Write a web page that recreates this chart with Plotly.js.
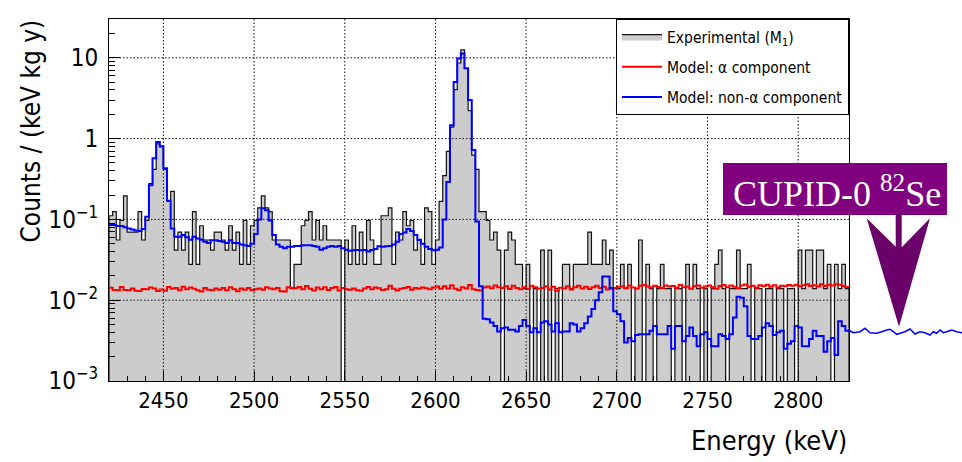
<!DOCTYPE html>
<html><head><meta charset="utf-8">
<script src="https://cdn.plot.ly/plotly-3.0.1.min.js"></script>
<style>html,body{margin:0;padding:0;background:#fff;}#chart{width:962px;height:462px;}</style>
</head><body><div id="chart"></div>
<script>
// ---- data (2 keV bins starting at 2420 keV) ----
const binStart = 2420;
const binWidth = 2;
const experimental = [
0.111,0.125,0.0556,0.0973,0.195,0.0695,0.0695,0.0695,0.125,0.0556,
0.0973,0.278,0.417,0.862,0.806,0.417,0.167,0.222,0.0417,0.0695,
0.0417,0.0695,0.0278,0.125,0.0278,0.0834,0.0556,0.0556,0.0417,0.0695,
0.0695,0.0556,0.0417,0.0834,0.0417,0.0695,0.0278,0.0973,0.0278,0.0834,
0.0973,0.139,0.195,0.139,0.125,0.0556,0.0556,0.0556,0.0556,0.0556,
0.0139,0.0278,0.0278,0.0834,0.0973,0.125,0.0556,0.0973,0.0556,0.0834,
0.0556,0.0556,0.0556,0.0556,0,0.0556,0.0278,0.0834,0.0278,0.0695,
0.0278,0.0973,0.0556,0.0278,0.0278,0.111,0.111,0.139,0.0278,0.0695,
0.0556,0.125,0.0834,0.0973,0.0417,0.0556,0.0278,0.139,0.125,0.0278,
0.0556,0.167,0.348,0.695,1.39,4.03,8.62,12.5,7.37,2.22,
0.626,0.417,0.125,0.125,0.0973,0.0556,0.0695,0.0417,0,0.0417,
0.0695,0.0556,0.0278,0.0278,0.0139,0.0278,0,0.0139,0,0.0417,
0,0.0417,0,0.0139,0,0.0278,0.0278,0.0139,0.0278,0.0278,
0.0278,0.0278,0.0695,0.0278,0.0278,0.0278,0.0556,0.0278,0.0417,0.0139,
0.0139,0.0278,0.0139,0.0278,0,0.0139,0.0556,0,0.0278,0.0139,
0,0.0139,0.0278,0.0139,0.0139,0,0.0139,0.0139,0,0.0278,
0.0139,0.0278,0.0139,0,0.0139,0,0.0139,0.0278,0.0417,0.0139,
0,0.0139,0.0139,0.0417,0.0139,0.0139,0.0278,0,0.0139,0.0139,
0,0.0139,0.0139,0,0.0139,0.0139,0,0.0139,0.0139,0,
0.0417,0.0139,0.0417,0.0417,0.0139,0.0417,0.0417,0.0139,0.0278,0,
0.0278,0.0139,0.0278,0.0139
];
const alphaModel = [
0.0143,0.0134,0.0133,0.0146,0.0134,0.0133,0.0140,0.0131,0.0130,0.0138,
0.0137,0.0144,0.0140,0.0130,0.0136,0.0131,0.0146,0.0139,0.0142,0.0133,
0.0147,0.0137,0.0144,0.0139,0.0133,0.0128,0.0142,0.0135,0.0133,0.0140,
0.0135,0.0142,0.0133,0.0145,0.0137,0.0129,0.0140,0.0135,0.0142,0.0133,
0.0137,0.0140,0.0135,0.0145,0.0140,0.0137,0.0142,0.0129,0.0128,0.0145,
0.0142,0.0141,0.0146,0.0137,0.0150,0.0139,0.0132,0.0144,0.0137,0.0145,
0.0134,0.0142,0.0146,0.0132,0.0142,0.0137,0.0135,0.0140,0.0133,0.0131,
0.0140,0.0146,0.0137,0.0144,0.0141,0.0134,0.0137,0.0151,0.0139,0.0132,
0.0139,0.0142,0.0146,0.0135,0.0142,0.0139,0.0144,0.0141,0.0137,0.0144,
0.0148,0.0139,0.0149,0.0140,0.0153,0.0139,0.0134,0.0145,0.0140,0.0154,
0.0137,0.0134,0.0132,0.0144,0.0148,0.0141,0.0152,0.0145,0.0142,0.0149,
0.0138,0.0151,0.0142,0.0137,0.0145,0.0138,0.0151,0.0145,0.0140,0.0142,
0.0149,0.0136,0.0147,0.0131,0.0143,0.0140,0.0149,0.0136,0.0145,0.0151,
0.0140,0.0147,0.0138,0.0145,0.0151,0.0142,0.0147,0.0136,0.0140,0.0142,
0.0147,0.0149,0.0142,0.0152,0.0144,0.0140,0.0151,0.0154,0.0148,0.0144,
0.0151,0.0146,0.0142,0.0152,0.0148,0.0150,0.0143,0.0154,0.0145,0.0148,
0.0139,0.0150,0.0152,0.0143,0.0148,0.0152,0.0145,0.0139,0.0150,0.0154,
0.0145,0.0152,0.0147,0.0141,0.0152,0.0156,0.0147,0.0151,0.0143,0.0153,
0.0149,0.0155,0.0147,0.0153,0.0144,0.0151,0.0149,0.0154,0.0151,0.0155,
0.0149,0.0153,0.0157,0.0150,0.0153,0.0148,0.0157,0.0150,0.0155,0.0152,
0.0157,0.0155,0.0150,0.0146
];
const nonAlphaModel = [
0.085,0.085,0.083,0.083,0.080,0.077,0.075,0.073,0.072,0.076,
0.108,0.265,0.57,0.91,0.80,0.43,0.17,0.077,0.061,0.061,
0.064,0.060,0.056,0.061,0.058,0.056,0.053,0.051,0.055,0.055,
0.054,0.053,0.051,0.055,0.051,0.051,0.049,0.048,0.047,0.050,
0.066,0.100,0.137,0.130,0.097,0.064,0.049,0.046,0.044,0.046,
0.046,0.047,0.047,0.048,0.048,0.048,0.047,0.046,0.042,0.044,
0.046,0.047,0.046,0.047,0.044,0.042,0.041,0.0414,0.0418,0.0414,
0.0418,0.040,0.0418,0.043,0.0465,0.046,0.0465,0.047,0.049,0.053,
0.066,0.069,0.076,0.072,0.064,0.056,0.050,0.046,0.043,0.0414,
0.042,0.045,0.10,0.29,1.46,5.0,9.8,11.3,7.4,3.0,
0.72,0.094,0.0149,0.0059,0.0058,0.0053,0.0048,0.0041,0.0045,0.0046,
0.0043,0.0043,0.0041,0.0048,0.0057,0.0048,0.0040,0.0045,0.0040,0.0053,
0.0055,0.0050,0.0041,0.0052,0.0040,0.0041,0.0041,0.0052,0.0050,0.0041,
0.0045,0.0052,0.0063,0.0078,0.0100,0.0125,0.0197,0.0197,0.0142,0.0073,
0.0067,0.0055,0.0030,0.0034,0.0031,0.0037,0.0038,0.0038,0.0038,0.0042,
0.0048,0.0038,0.0038,0.0038,0.0048,0.0025,0.0048,0.0048,0.0031,0.0036,
0.0046,0.0036,0.0027,0.0038,0.0040,0.0033,0.0027,0.0027,0.0038,0.0036,
0.0033,0.0038,0.0061,0.0110,0.0107,0.0084,0.0036,0.0033,0.0033,0.0036,
0.0046,0.0052,0.0048,0.0037,0.0040,0.0042,0.0025,0.0029,0.0031,0.0048,
0.0046,0.0027,0.0027,0.0033,0.0042,0.0036,0.0036,0.0023,0.0031,0.0034,
0.0021,0.0055,0.0048,0.0042
];
const xTickVals = [2450,2500,2550,2600,2650,2700,2750,2800];
const yTickVals = [0.001,0.01,0.1,1,10];
const yTickText = ['10<sup>\u22123</sup>','10<sup>\u22122</sup>','10<sup>\u22121</sup>','1','10'];
const seriesNames = ['Experimental (M<sub>1</sub>)','Model: \u03b1 component','Model: non-\u03b1 component'];

// ---- layout constants ----
const X_RANGE = [2420, 2828];
const Y_LOG_RANGE = [-3, 1.48];
const FLOOR = 1e-5;
const SANS = 'Liberation Sans Narrow, DejaVu Sans Condensed, Arial Narrow, sans-serif';
const PLOT_L = 109, PLOT_R = 849, PLOT_T = 19, PLOT_B = 381, W = 962, H = 462;
const px = p => (p - PLOT_L) / (PLOT_R - PLOT_L);
const py = p => (PLOT_B - p) / (PLOT_B - PLOT_T);

function steps(vals) {
  const x = [], y = [];
  vals.forEach((v, i) => { x.push(binStart + i * binWidth); y.push(v > 0 ? v : FLOOR); });
  x.push(binStart + vals.length * binWidth); y.push(y[y.length - 1]);
  return {x, y};
}
const expSt = steps(experimental);
const expX = [binStart].concat(expSt.x, [expSt.x[expSt.x.length - 1]]);
const expY = [FLOOR].concat(expSt.y, [FLOOR]);
const aSt = steps(alphaModel), nSt = steps(nonAlphaModel);

const traces = [
  {x: expX, y: expY, type: 'scatter', mode: 'lines', fill: 'toself', fillcolor: '#cccccc',
   line: {color: '#111', width: 1.2, shape: 'hv'}, name: seriesNames[0], legendgroup: 'a', hoverinfo: 'skip'},
  {x: aSt.x, y: aSt.y, type: 'scatter', mode: 'lines', line: {color: '#ff0000', width: 2, shape: 'hv'},
   name: seriesNames[1], legendgroup: 'b', hoverinfo: 'skip'},
  {x: nSt.x, y: nSt.y, type: 'scatter', mode: 'lines', line: {color: '#0000ff', width: 2, shape: 'hv'},
   name: seriesNames[2], legendgroup: 'c', hoverinfo: 'skip'}
];

// minor ticks on log axis
const yMinor = [];
for (let d = -3; d <= 1; d++) for (let k = 2; k <= 9; k++) yMinor.push(k * Math.pow(10, d));

// grid drawn above the histogram (as in ROOT)
const shapes = [];
const gridLine = {color: '#111', width: 1, dash: '1.5px,2px'};
xTickVals.forEach(v => shapes.push({type: 'line', xref: 'x', yref: 'paper', x0: v, x1: v, y0: 0, y1: 1, line: gridLine, layer: 'above'}));
yTickVals.slice(1).forEach(v => {
  const f = (Math.log10(v) - Y_LOG_RANGE[0]) / (Y_LOG_RANGE[1] - Y_LOG_RANGE[0]);
  shapes.push({type: 'line', xref: 'paper', yref: 'paper', x0: 0, x1: 1, y0: f, y1: f, line: gridLine, layer: 'above'});
});
// CUPID-0 logo
shapes.push({type: 'rect', xref: 'paper', yref: 'paper', x0: px(723), x1: px(947), y0: py(215), y1: py(163), fillcolor: '#800080', line: {width: 0}, layer: 'above'});
shapes.push({type: 'rect', xref: 'paper', yref: 'paper', x0: px(895.7), x1: px(901.7), y0: py(247), y1: py(214), fillcolor: '#6a006a', line: {width: 0}, layer: 'above'});
shapes.push({type: 'path', xref: 'paper', yref: 'paper', layer: 'above', fillcolor: '#6a006a', line: {width: 0},
  path: `M${px(866.7)},${py(218.3)} L${px(896)},${py(247)} L${px(902)},${py(247)} L${px(930)},${py(218.3)} L${px(899)},${py(326.7)} Z`});
const wave = [[848.3,330],[853.3,332.7],[860,331.7],[865,328.3],[870,332.7],[876.7,333.3],[881.7,331.7],[886.7,330],[890,329.3],[893.3,331.7],[896.7,334.3],[901.7,332.7],[905,331.7],[910,329],[915,334],[920,331.7],[925,332.7],[930,335],[933.3,331.7],[936.7,333.3],[940,330],[943.3,332.7],[946.7,331.7],[951.7,330],[956.7,331.7],[962,332.7]];
shapes.push({type: 'path', xref: 'paper', yref: 'paper', layer: 'above', line: {color: '#0000ff', width: 1.5},
  path: wave.map((p, i) => (i ? 'L' : 'M') + px(p[0]) + ',' + py(p[1])).join(' ')});

const layout = {
  width: W, height: H,
  margin: {l: PLOT_L, r: W - PLOT_R, t: PLOT_T, b: H - PLOT_B, pad: 0},
  paper_bgcolor: '#fff', plot_bgcolor: '#fff',
  font: {family: SANS, color: '#000'},
  showlegend: true,
  legend: {x: 1, xanchor: 'right', y: 1, yanchor: 'top', bgcolor: '#fff', bordercolor: '#000', borderwidth: 1,
           font: {family: SANS, size: 15.5, color: '#000'}, itemwidth: 40, tracegroupgap: 7, traceorder: 'grouped'},
  xaxis: {type: 'linear', range: X_RANGE, tickmode: 'array', tickvals: xTickVals, ticks: 'inside', ticklen: 10,
          tickcolor: '#000', showline: true, mirror: true, linecolor: '#000', linewidth: 1, showgrid: false, zeroline: false,
          tickfont: {family: SANS, size: 22, color: '#000'},
          minor: {tickmode: 'linear', tick0: 2420, dtick: 10, ticks: 'inside', ticklen: 5, tickcolor: '#000', showgrid: false}},
  yaxis: {type: 'log', range: Y_LOG_RANGE, tickmode: 'array', tickvals: yTickVals, ticktext: yTickText, ticks: 'inside', ticklen: 11,
          tickcolor: '#000', showline: true, mirror: true, linecolor: '#000', linewidth: 1, showgrid: false, zeroline: false,
          tickfont: {family: SANS, size: 24, color: '#000'}, ticklabelstandoff: 5,
          minor: {tickmode: 'array', tickvals: yMinor, ticks: 'inside', ticklen: 6, tickcolor: '#000', showgrid: false}},
  shapes: shapes,
  annotations: [
    {text: 'Counts / (keV kg y)', xref: 'paper', yref: 'paper', x: px(30), y: py(18), xanchor: 'center', yanchor: 'top',
     textangle: -90, showarrow: false, font: {family: SANS, size: 26, color: '#000'}},
    {text: 'Energy (keV)', xref: 'paper', yref: 'paper', x: 1, y: py(440), xanchor: 'right', yanchor: 'middle',
     showarrow: false, font: {family: SANS, size: 27, color: '#000'}},
    {text: 'CUPID-0 <sup>82</sup>Se', xref: 'paper', yref: 'paper', x: px(837), y: py(191), xanchor: 'center', yanchor: 'middle',
     showarrow: false, font: {family: 'Liberation Serif, DejaVu Serif, serif', size: 36, color: '#fff'}}
  ]
};
Plotly.newPlot('chart', traces, layout, {displayModeBar: false, staticPlot: true});
</script></body></html>
